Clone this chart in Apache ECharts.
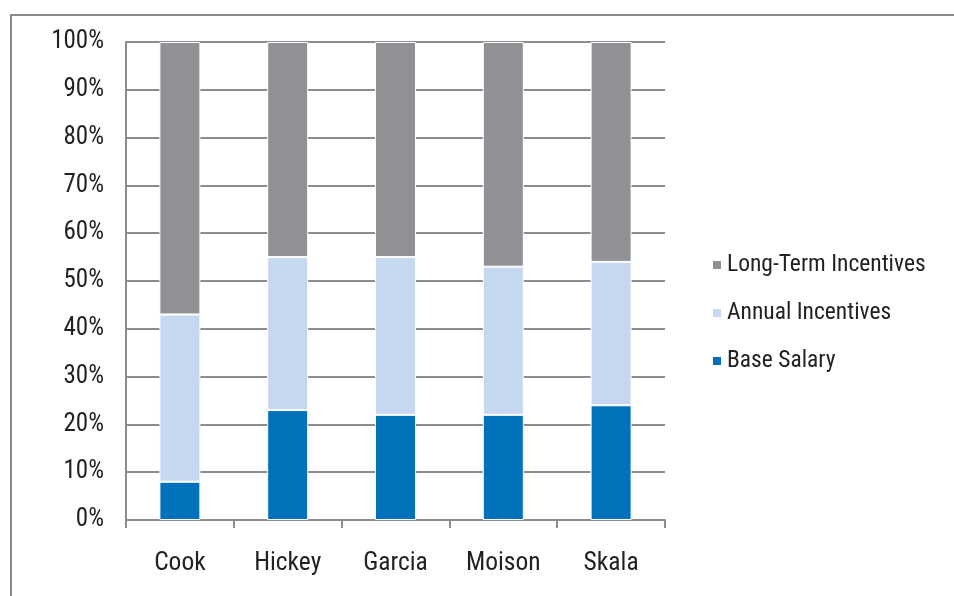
<!DOCTYPE html>
<html>
<head>
<meta charset="utf-8">
<script src="https://cdn.jsdelivr.net/npm/echarts@6/dist/echarts.min.js"></script>
<style>
	html,body{margin:0;padding:0;background:#fff;}
	#chart{width:954px;height:596px;}
</style>
</head>
<body>
<div id="chart"></div>
<script>
// data (percent of total pay)
var names = ['Cook', 'Hickey', 'Garcia', 'Moison', 'Skala'];
var baseSalary = [8, 23, 22, 22, 24];
var annualIncentives = [35, 32, 33, 31, 30];
var longTermIncentives = [57, 45, 45, 47, 46];
var yTicks = [0, 10, 20, 30, 40, 50, 60, 70, 80, 90, 100];

var COLOR = {
	BASE: '#0072BC',
	ANNUAL: '#C6D8EF',
	LONG: '#8F9194',
	GRID: '#8C8C8C',
	TEXT: '#222222'
};
var FONT = "'Liberation Sans Narrow', 'Roboto Condensed', 'Liberation Sans', sans-serif";

function barSeries(name, data, color){
	return {
		name: name,
		type: 'bar',
		stack: 'pay',
		data: data,
		barWidth: 41,
		itemStyle: {
			color: color,
			borderColor: '#ffffff',
			borderWidth: 1
		}
	};
}

var myChart = echarts.init(document.getElementById('chart'), null, {renderer: 'canvas'});
myChart.setOption({
	animation: false,
	textStyle: {fontFamily: FONT},
	graphic: [{
		type: 'rect',
		shape: {x: 11, y: 15, width: 1000, height: 700},
		style: {fill: 'none', stroke: '#8a8a8a', lineWidth: 2},
		silent: true
	}],
	legend: {
		orient: 'vertical',
		left: 706,
		top: 248,
		itemGap: 24,
		itemWidth: 10,
		itemHeight: 10,
		icon: 'rect',
		data: ['Long-Term Incentives', 'Annual Incentives', 'Base Salary'],
		textStyle: {fontFamily: FONT, fontSize: 23.5, color: COLOR.TEXT}
	},
	grid: {left: 126, top: 42, width: 539, height: 478, containLabel: false},
	xAxis: {
		type: 'category',
		data: names,
		axisLine: {lineStyle: {color: COLOR.GRID, width: 2}},
		axisTick: {show: true, length: 8, lineStyle: {color: COLOR.GRID, width: 2}},
		axisLabel: {fontFamily: FONT, fontSize: 25.5, color: COLOR.TEXT, margin: 31},
		splitLine: {show: false}
	},
	yAxis: {
		type: 'value',
		min: 0,
		max: 100,
		interval: 10,
		axisLine: {show: true, lineStyle: {color: COLOR.GRID, width: 2}},
		axisTick: {show: false},
		axisLabel: {
			fontFamily: FONT, fontSize: 25, color: COLOR.TEXT, margin: 22,
			formatter: function(v){ return yTicks.indexOf(v) >= 0 ? v + '%' : ''; }
		},
		splitLine: {lineStyle: {color: COLOR.GRID, width: 2}}
	},
	series: [
		barSeries('Base Salary', baseSalary, COLOR.BASE),
		barSeries('Annual Incentives', annualIncentives, COLOR.ANNUAL),
		barSeries('Long-Term Incentives', longTermIncentives, COLOR.LONG)
	]
});
</script>
</body>
</html>
